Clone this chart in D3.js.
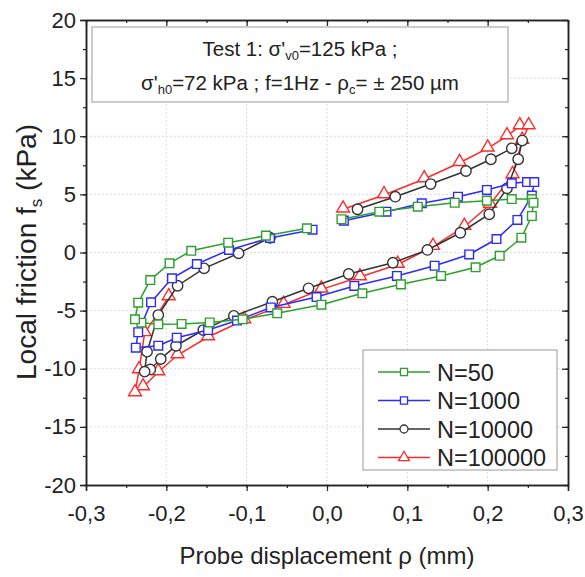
<!DOCTYPE html>
<html>
<head>
<meta charset="utf-8">
<script src="https://cdn.jsdelivr.net/npm/d3@7"></script>
<style>
  body { margin: 0; background: #fff; }
  text { font-family: "Liberation Sans", Arial, sans-serif; fill: #222; }
</style>
</head>
<body>
<div id="chart"></div>
<script>
// données : [déplacement (mm), frottement (kPa)]
var n50 = [
  [0.018, 2.86], [0.065, 3.51], [0.113, 3.94], [0.159, 4.28], [0.199, 4.46],
  [0.230, 4.60], [0.255, 4.60], [0.257, 4.28], [0.255, 3.14], [0.242, 1.27],
  [0.215, -0.28], [0.185, -1.27], [0.142, -2.02], [0.092, -2.74], [0.044, -3.51],
  [-0.007, -4.49], [-0.062, -5.23], [-0.105, -5.75], [-0.146, -6.02], [-0.181, -6.15],
  [-0.210, -6.18], [-0.231, -6.04], [-0.239, -5.75], [-0.235, -4.32], [-0.220, -2.37],
  [-0.196, -0.93], [-0.169, 0.15], [-0.123, 0.84], [-0.076, 1.45], [-0.025, 2.08]
];
var n1000 = [
  [0.021, 2.74], [0.074, 3.51], [0.118, 4.23], [0.163, 4.80], [0.199, 5.38],
  [0.230, 5.95], [0.249, 6.06], [0.258, 6.06], [0.255, 4.90], [0.237, 2.80],
  [0.211, 1.16], [0.177, -0.17], [0.134, -1.14], [0.087, -2.02], [0.034, -2.88],
  [-0.013, -3.83], [-0.070, -4.73], [-0.112, -5.85], [-0.148, -6.67], [-0.187, -7.33],
  [-0.210, -8.02], [-0.238, -8.19], [-0.235, -6.86], [-0.219, -4.28], [-0.193, -2.22],
  [-0.162, -0.99], [-0.122, 0.22], [-0.071, 1.25], [-0.018, 1.96]
];
var n10000 = [
  [0.038, 3.72], [0.085, 4.80], [0.129, 5.89], [0.173, 7.01], [0.204, 8.02],
  [0.230, 8.96], [0.243, 9.63], [0.238, 8.02], [0.224, 5.52], [0.202, 3.29],
  [0.166, 1.70], [0.125, 0.22], [0.082, -0.88], [0.027, -1.85], [-0.023, -3.08],
  [-0.068, -4.23], [-0.116, -5.45], [-0.154, -6.67], [-0.188, -8.02], [-0.207, -9.16],
  [-0.220, -10.06], [-0.227, -10.25], [-0.224, -8.53], [-0.210, -5.38], [-0.186, -2.86],
  [-0.153, -1.36], [-0.110, -0.07], [-0.071, 1.27]
];
var n100000 = [
  [0.020, 3.72], [0.071, 4.95], [0.121, 6.32], [0.165, 7.72], [0.200, 8.96],
  [0.224, 10.02], [0.240, 10.88], [0.251, 10.88], [0.243, 9.63], [0.231, 6.67],
  [0.203, 4.13], [0.171, 2.22], [0.132, 0.50], [0.088, -1.03], [0.041, -2.11],
  [-0.007, -3.17], [-0.054, -4.49], [-0.103, -5.81], [-0.148, -7.27], [-0.186, -8.82],
  [-0.210, -10.28], [-0.229, -11.57], [-0.239, -12.09], [-0.234, -10.11], [-0.227, -6.92],
  [-0.197, -3.83]
];

var seriesNames = ["N=50", "N=1000", "N=10000", "N=100000"];
var seriesColors = ["#2ca02c", "#2b2bff", "#333333", "#ff2a2a"];
var seriesSymbols = ["square", "square", "circle", "triangle"];
var seriesData = [n50, n1000, n10000, n100000];

var xTicks = [-0.3, -0.2, -0.1, 0.0, 0.1, 0.2, 0.3];
var yTicks = [-20, -15, -10, -5, 0, 5, 10, 15, 20];

var W = 585, H = 577;
// attention : "top" est réservé par window
var pL = 86, pR = 568, pT = 20, pB = 485;

var svg = d3.select("#chart").append("svg")
  .attr("width", W)
  .attr("height", H);

var x = d3.scaleLinear().domain([-0.3, 0.3]).range([pL, pR]);
var y = d3.scaleLinear().domain([-20, 20]).range([pB, pT]);

var fmt = function(d) { return d3.format(".1f")(d).replace(".", ",").replace("−", "-"); };

// grille pointillée
svg.append("g").selectAll("line")
  .data(xTicks.slice(1, -1))
  .enter().append("line")
  .attr("x1", function(d) { return x(d); })
  .attr("x2", function(d) { return x(d); })
  .attr("y1", pT).attr("y2", pB)
  .style("stroke", "#cfcfcf").style("stroke-dasharray", "1.5,2.5");
svg.append("g").selectAll("line")
  .data(yTicks.slice(1, -1))
  .enter().append("line")
  .attr("y1", function(d) { return y(d); })
  .attr("y2", function(d) { return y(d); })
  .attr("x1", pL).attr("x2", pR)
  .style("stroke", "#cfcfcf").style("stroke-dasharray", "1.5,2.5");

// axes
var xMinor = d3.range(-0.3, 0.3001, 0.05);
var yMinor = d3.range(-20, 20.01, 2.5);

var bottomAxis = d3.axisBottom(x).tickValues(xTicks).tickFormat(fmt).tickSize(6).tickPadding(14);
var leftAxis = d3.axisLeft(y).tickValues(yTicks).tickFormat(function(d) { return String(d); }).tickSize(6).tickPadding(4);

svg.append("g").attr("transform", "translate(0," + pB + ")").call(bottomAxis);
svg.append("g").attr("transform", "translate(" + pL + ",0)").call(leftAxis);
svg.append("g").attr("transform", "translate(0," + pB + ")")
  .call(d3.axisBottom(x).tickValues(xMinor).tickFormat("").tickSize(3).tickSizeOuter(0));
svg.append("g").attr("transform", "translate(" + pL + ",0)")
  .call(d3.axisLeft(y).tickValues(yMinor).tickFormat("").tickSize(3).tickSizeOuter(0));
// axes miroirs, graduations vers l'intérieur
svg.append("g").attr("transform", "translate(0," + pT + ")")
  .call(d3.axisBottom(x).tickValues(xTicks).tickFormat("").tickSize(6).tickSizeOuter(0));
svg.append("g").attr("transform", "translate(0," + pT + ")")
  .call(d3.axisBottom(x).tickValues(xMinor).tickFormat("").tickSize(3).tickSizeOuter(0));
svg.append("g").attr("transform", "translate(" + pR + ",0)")
  .call(d3.axisLeft(y).tickValues(yTicks).tickFormat("").tickSize(6).tickSizeOuter(0));
svg.append("g").attr("transform", "translate(" + pR + ",0)")
  .call(d3.axisLeft(y).tickValues(yMinor).tickFormat("").tickSize(3).tickSizeOuter(0));

svg.selectAll(".domain").style("stroke", "#222").style("stroke-width", 1.5);
svg.selectAll(".tick line").style("stroke", "#222").style("stroke-width", 1.2);
svg.selectAll(".tick text")
  .style("font-family", "'Liberation Sans', Arial, sans-serif")
  .style("font-size", "22px").style("fill", "#222");

// cadre du titre
svg.append("rect")
  .attr("x", 92).attr("y", 27).attr("width", 416).attr("height", 75)
  .style("fill", "#fff").style("stroke", "#aaa").style("stroke-width", 1.2);

var t1 = svg.append("text").attr("x", 300).attr("y", 56)
  .style("font-size", "20.5px").style("text-anchor", "middle");
t1.append("tspan").text("Test 1: σ'");
t1.append("tspan").text("v0").style("font-size", "13px").attr("dy", 4);
t1.append("tspan").text("=125 kPa ;").attr("dy", -4);

var t2 = svg.append("text").attr("x", 300).attr("y", 90)
  .style("font-size", "20.5px").style("text-anchor", "middle");
t2.append("tspan").text("σ'");
t2.append("tspan").text("h0").style("font-size", "13px").attr("dy", 4);
t2.append("tspan").text("=72 kPa ; f=1Hz - ρ").attr("dy", -4);
t2.append("tspan").text("c").style("font-size", "13px").attr("dy", 4);
t2.append("tspan").text("= ± 250 µm").attr("dy", -4);

// courbes
function symbolFor(s) {
  if (s === "circle") return d3.symbol().type(d3.symbolCircle).size(85)();
  if (s === "triangle") return d3.symbol().type(d3.symbolTriangle).size(72)();
  return d3.symbol().type(d3.symbolSquare).size(75)();
}

var line = d3.line()
  .x(function(d) { return x(d[0]); })
  .y(function(d) { return y(d[1]); });

var order = [3, 2, 1, 0];
order.forEach(function(i) {
  var g = svg.append("g");
  g.append("path")
    .attr("d", line(seriesData[i]))
    .style("fill", "none")
    .style("stroke", seriesColors[i])
    .style("stroke-width", 1.5);
  g.selectAll("path.pt")
    .data(seriesData[i])
    .enter().append("path")
    .attr("class", "pt")
    .attr("transform", function(d) {
      var dy = seriesSymbols[i] === "triangle" ? -1 : 0;
      return "translate(" + x(d[0]) + "," + (y(d[1]) + dy) + ")";
    })
    .attr("d", symbolFor(seriesSymbols[i]))
    .style("fill", "#fff")
    .style("stroke", seriesColors[i])
    .style("stroke-width", 1.4);
});

// légende
var lg = svg.append("g");
lg.append("rect")
  .attr("x", 363).attr("y", 350).attr("width", 194).attr("height", 120)
  .style("fill", "#fff").style("stroke", "#aaa").style("stroke-width", 1.2);
seriesNames.forEach(function(name, i) {
  var ly = 372 + i * 28.5;
  lg.append("line")
    .attr("x1", 378).attr("x2", 430).attr("y1", ly).attr("y2", ly)
    .style("stroke", seriesColors[i]).style("stroke-width", 1.5);
  lg.append("path")
    .attr("transform", "translate(404," + ly + ")")
    .attr("d", d3.symbol().type(seriesSymbols[i] === "circle" ? d3.symbolCircle :
      seriesSymbols[i] === "triangle" ? d3.symbolTriangle : d3.symbolSquare).size(50)())
    .style("fill", "#fff").style("stroke", seriesColors[i]).style("stroke-width", 1.3);
  lg.append("text")
    .attr("x", 437).attr("y", ly + 8.5)
    .style("font-size", "23.5px")
    .text(name);
});

// titres des axes
svg.append("text")
  .attr("x", 327).attr("y", 564)
  .style("font-size", "24px").style("text-anchor", "middle")
  .text("Probe displacement ρ (mm)");

var yl = svg.append("text")
  .attr("transform", "translate(36," + 252 + ") rotate(-90)")
  .style("font-size", "28px").style("text-anchor", "middle");
yl.append("tspan").text("Local friction f");
yl.append("tspan").text("s").style("font-size", "17px").attr("dy", 6);
yl.append("tspan").text(" (kPa)").attr("dy", -6);
</script>
</body>
</html>
